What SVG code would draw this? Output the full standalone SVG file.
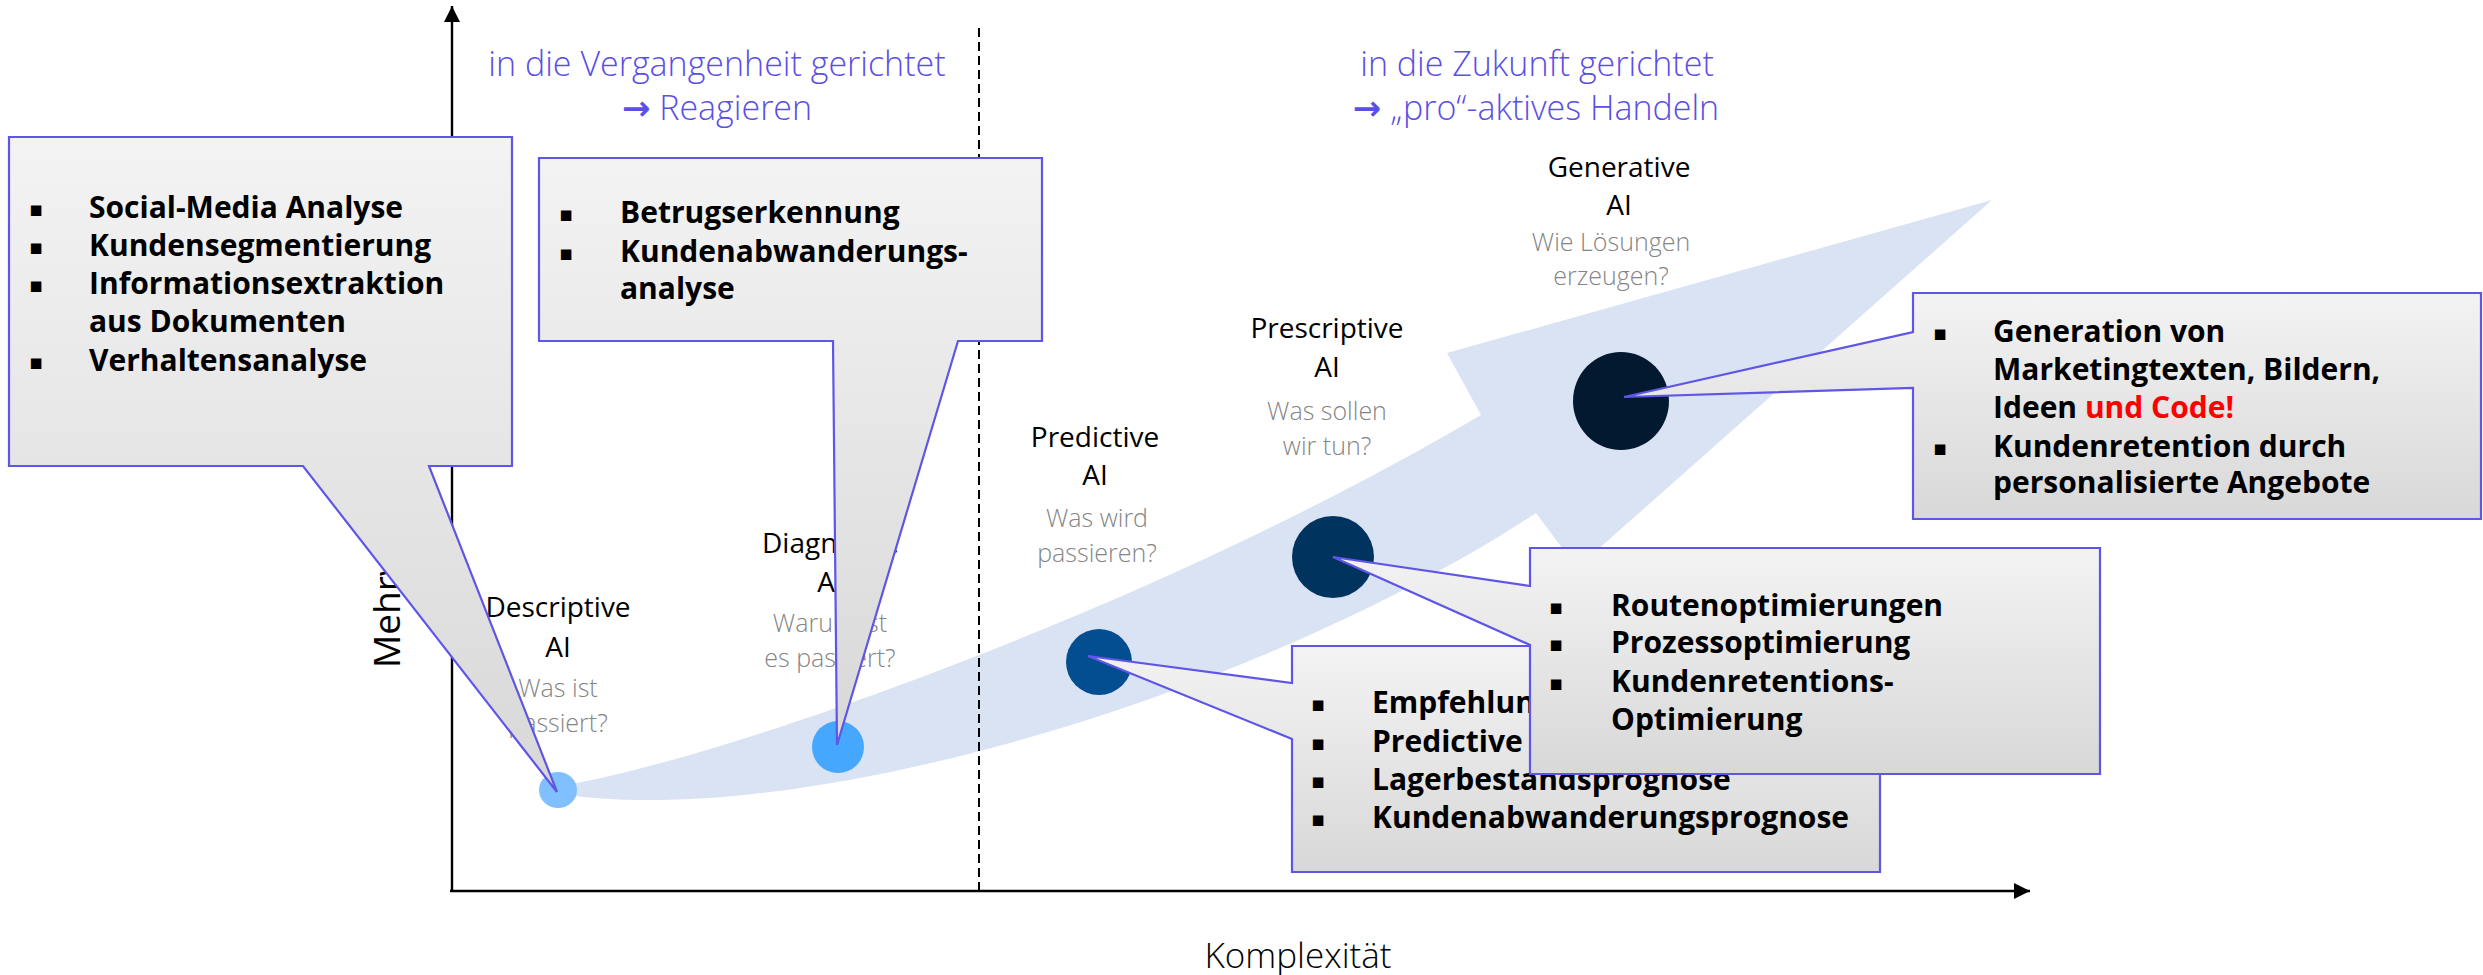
<svg xmlns="http://www.w3.org/2000/svg" width="2483" height="975" viewBox="0 0 2483 975">
<defs>
  <linearGradient id="cg" x1="0" y1="0" x2="0" y2="1">
    <stop offset="0" stop-color="#f3f3f3"/>
    <stop offset="1" stop-color="#d8d8d8"/>
  </linearGradient>
  <marker id="ah" viewBox="0 0 16 16" refX="16" refY="8" markerWidth="16" markerHeight="16" orient="auto" markerUnits="userSpaceOnUse">
    <path d="M0,0 L16,8 L0,16 Z" fill="#000"/>
  </marker>
</defs>
<style>
  text { font-family: "Open Sans", "Noto Sans", "DejaVu Sans", sans-serif; }
  .hdr { font-size: 34px; font-weight: 300; fill: #5a4fe6; text-anchor: middle; }
  .arr { font-family: "DejaVu Sans", sans-serif; font-weight: 700; }
  .ttl { font-size: 28px; font-weight: 400; fill: #000; text-anchor: middle; }
  .q { font-size: 25px; font-weight: 300; fill: #858585; text-anchor: middle; }
  .ax { font-size: 35px; font-weight: 300; fill: #000; }
  .ct { font-size: 30px; font-weight: 700; fill: #000; }
  .red { fill: #ff0000; }
  .bl { font-family: "DejaVu Sans", sans-serif; font-size: 21px; fill: #000; text-anchor: middle; }
  .co { fill: url(#cg); stroke: #5f55e6; stroke-width: 2.2; stroke-linejoin: miter; }
  .axis { stroke: #000; stroke-width: 2.4; fill: none; }
</style>

<rect x="0" y="0" width="2483" height="975" fill="#fff"/>

<g id="band">
  <path d="M 560 786 C 720 760, 1150 610, 1481 415 L 1447 353 L 1992 200 L 1577 568 L 1536 513 C 1250 700, 800 830, 560 794 Z" fill="#dae3f3"/>
</g>

<g id="connectors">
  <line class="axis" x1="452" y1="891" x2="452" y2="6" marker-end="url(#ah)"/>
  <line class="axis" x1="450" y1="891" x2="2030" y2="891" marker-end="url(#ah)"/>
  <line x1="979" y1="28" x2="979" y2="891" stroke="#000" stroke-width="2" stroke-dasharray="9 5"/>
</g>

<g id="axis-labels">
  <text class="ax" x="1298" y="968" text-anchor="middle">Komplexität</text>
  <text class="ax" transform="translate(400 668) rotate(-90)" x="0" y="0" style="font-weight:400;font-size:37px">Mehrwert</text>
</g>

<g id="headers">
  <text class="hdr" x="717" y="76">in die Vergangenheit gerichtet</text>
  <text class="hdr" x="717" y="120"><tspan class="arr">→</tspan> Reagieren</text>
  <text class="hdr" x="1537" y="76">in die Zukunft gerichtet</text>
  <text class="hdr" x="1536" y="120"><tspan class="arr">→</tspan> „pro“-aktives Handeln</text>
</g>

<g id="node-descriptive">
  <text class="ttl" x="558" y="617">Descriptive</text>
  <text class="ttl" x="558" y="657">AI</text>
  <text class="q" x="558" y="697">Was ist</text>
  <text class="q" x="558" y="732">passiert?</text>
  <ellipse cx="558" cy="790" rx="19" ry="18" fill="#80c0ff"/>
</g>

<g id="node-diagnostic">
  <text class="ttl" x="830" y="553">Diagnostic</text>
  <text class="ttl" x="830" y="592">AI</text>
  <text class="q" x="830" y="632">Warum ist</text>
  <text class="q" x="830" y="667">es passiert?</text>
  <ellipse cx="838" cy="747" rx="26" ry="26" fill="#46a7fe"/>
</g>

<g id="node-predictive">
  <text class="ttl" x="1095" y="447">Predictive</text>
  <text class="ttl" x="1095" y="485">AI</text>
  <text class="q" x="1097" y="527">Was wird</text>
  <text class="q" x="1097" y="562">passieren?</text>
  <ellipse cx="1099" cy="662" rx="33" ry="33" fill="#034e91"/>
</g>

<g id="node-prescriptive">
  <text class="ttl" x="1327" y="338">Prescriptive</text>
  <text class="ttl" x="1327" y="377">AI</text>
  <text class="q" x="1327" y="420">Was sollen</text>
  <text class="q" x="1327" y="455">wir tun?</text>
  <ellipse cx="1333" cy="557" rx="41" ry="41" fill="#01335f"/>
</g>

<g id="node-generative">
  <text class="ttl" x="1619" y="177">Generative</text>
  <text class="ttl" x="1619" y="215">AI</text>
  <text class="q" x="1611" y="251">Wie Lösungen</text>
  <text class="q" x="1611" y="285">erzeugen?</text>
  <ellipse cx="1621" cy="401" rx="48" ry="49" fill="#02192f"/>
</g>

<g id="callout-descriptive">
  <path class="co" d="M9,137 H512 V466 H429 L557,792 L303,466 H9 Z"/>
  <text class="bl" x="36" y="216">▪</text>
  <text class="bl" x="36" y="254">▪</text>
  <text class="bl" x="36" y="292">▪</text>
  <text class="bl" x="36" y="369">▪</text>
  <text class="ct" x="89" y="218">Social-Media Analyse</text>
  <text class="ct" x="89" y="256">Kundensegmentierung</text>
  <text class="ct" x="89" y="294">Informationsextraktion</text>
  <text class="ct" x="89" y="332">aus Dokumenten</text>
  <text class="ct" x="89" y="371">Verhaltensanalyse</text>
</g>

<g id="callout-diagnostic">
  <path class="co" d="M539,158 H1042 V341 H958 L837,745 L833,341 H539 Z"/>
  <text class="bl" x="566" y="221">▪</text>
  <text class="bl" x="566" y="260">▪</text>
  <text class="ct" x="620" y="223">Betrugserkennung</text>
  <text class="ct" x="620" y="262">Kundenabwanderungs-</text>
  <text class="ct" x="620" y="299">analyse</text>
</g>

<g id="callout-predictive">
  <path class="co" d="M1292,646 H1880 V872 H1292 V739 L1088,656 L1292,683 Z"/>
  <text class="bl" x="1318" y="711">▪</text>
  <text class="bl" x="1318" y="750">▪</text>
  <text class="bl" x="1318" y="788">▪</text>
  <text class="bl" x="1318" y="826">▪</text>
  <text class="ct" x="1372" y="713">Empfehlungssysteme</text>
  <text class="ct" x="1372" y="752">Predictive Maintenance</text>
  <text class="ct" x="1372" y="790">Lagerbestandsprognose</text>
  <text class="ct" x="1372" y="828">Kundenabwanderungsprognose</text>
</g>

<g id="callout-prescriptive">
  <path class="co" d="M1530,548 H2100 V774 H1530 V645 L1333,557 L1530,586 Z"/>
  <text class="bl" x="1556" y="614">▪</text>
  <text class="bl" x="1556" y="651">▪</text>
  <text class="bl" x="1556" y="690">▪</text>
  <text class="ct" x="1611" y="616">Routenoptimierungen</text>
  <text class="ct" x="1611" y="653">Prozessoptimierung</text>
  <text class="ct" x="1611" y="692">Kundenretentions-</text>
  <text class="ct" x="1611" y="730">Optimierung</text>
</g>

<g id="callout-generative">
  <path class="co" d="M1913,293 H2481 V519 H1913 V388 L1624,397 L1913,332 Z"/>
  <text class="bl" x="1940" y="340">▪</text>
  <text class="bl" x="1940" y="455">▪</text>
  <text class="ct" x="1993" y="342">Generation von</text>
  <text class="ct" x="1993" y="380">Marketingtexten, Bildern,</text>
  <text class="ct" x="1993" y="418">Ideen <tspan class="red">und Code!</tspan></text>
  <text class="ct" x="1993" y="457">Kundenretention durch</text>
  <text class="ct" x="1993" y="493">personalisierte Angebote</text>
</g>
</svg>
